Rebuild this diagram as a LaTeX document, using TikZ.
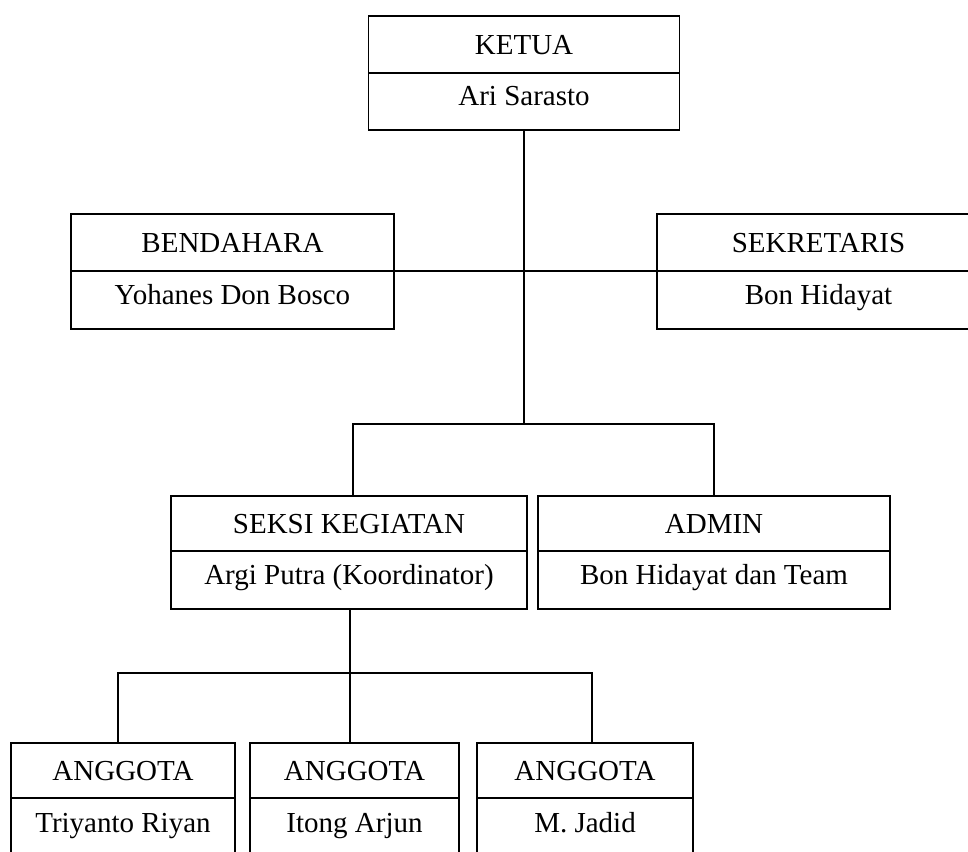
\documentclass[tikz,border=0pt]{standalone}
\usepackage{fontspec}
\setmainfont{Liberation Serif}
\newcommand\orgfont{\fontsize{29}{34}\selectfont}
\begin{document}
\begin{tikzpicture}[x=1pt,y=-1pt,
  part/.style={draw, line width=1.6pt, inner sep=0pt, outer sep=0pt, font=\orgfont, align=center},
  upperpart/.style={part, text height=20pt, text depth=0pt},
  lowerpart/.style={part, text height=20pt, text depth=12pt},
  conn/.style={line width=1.8pt}]
\useasboundingbox (0,0) rectangle (968,851);

% KETUA
\node[upperpart, minimum width=311pt, minimum height=57pt] (ketuaU) at (524,44.5) {KETUA};
\node[lowerpart, minimum width=311pt, minimum height=57pt, anchor=north] (ketuaL) at (ketuaU.south) {Ari Sarasto};

% BENDAHARA
\node[upperpart, minimum width=323pt, minimum height=57pt] (bendU) at (232.5,242.5) {BENDAHARA};
\node[lowerpart, minimum width=323pt, minimum height=58pt, anchor=north] (bendL) at (bendU.south) {Yohanes Don Bosco};

% SEKRETARIS
\node[upperpart, minimum width=323pt, minimum height=57pt] (sekrU) at (818.5,242.5) {SEKRETARIS};
\node[lowerpart, minimum width=323pt, minimum height=58pt, anchor=north] (sekrL) at (sekrU.south) {Bon Hidayat};

% SEKSI KEGIATAN
\node[upperpart, minimum width=356pt, minimum height=55pt] (seksiU) at (349,523.5) {SEKSI KEGIATAN};
\node[lowerpart, minimum width=356pt, minimum height=58pt, anchor=north] (seksiL) at (seksiU.south) {Argi Putra (Koordinator)};

% ADMIN
\node[upperpart, minimum width=352pt, minimum height=55pt] (adminU) at (714,523.5) {ADMIN};
\node[lowerpart, minimum width=352pt, minimum height=58pt, anchor=north] (adminL) at (adminU.south) {Bon Hidayat dan Team};

% ANGGOTA
\node[upperpart, minimum width=224pt, minimum height=55pt] (ang1U) at (123,770.5) {ANGGOTA};
\node[lowerpart, minimum width=224pt, minimum height=60pt, anchor=north] (ang1L) at (ang1U.south) {Triyanto Riyan};
\node[upperpart, minimum width=209pt, minimum height=55pt] (ang2U) at (354.5,770.5) {ANGGOTA};
\node[lowerpart, minimum width=209pt, minimum height=60pt, anchor=north] (ang2L) at (ang2U.south) {Itong Arjun};
\node[upperpart, minimum width=216pt, minimum height=55pt] (ang3U) at (585,770.5) {ANGGOTA};
\node[lowerpart, minimum width=216pt, minimum height=60pt, anchor=north] (ang3L) at (ang3U.south) {M. Jadid};

% connectors
\coordinate (busA) at (0,424);
\coordinate (busB) at (0,673);
\draw[conn] (ketuaL.south) -- (ketuaL.south |- busA);
\draw[conn] (bendU.south east) -- (sekrU.south west);
\draw[conn] ([xshift=4pt]seksiU.north) |- (adminU.north |- busA) -- (adminU.north);
\draw[conn] ([xshift=1pt]seksiL.south) -- ([xshift=1pt]seksiL.south |- ang2U.north);
\draw[conn] ([xshift=-5pt]ang1U.north) |- ([xshift=7pt]ang3U.north |- busB) -- ([xshift=7pt]ang3U.north);
\end{tikzpicture}
\end{document}
